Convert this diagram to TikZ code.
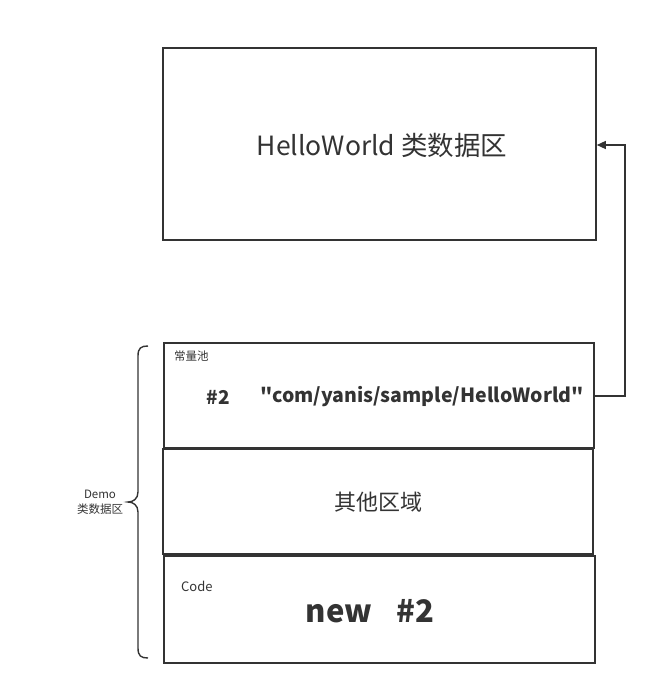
\documentclass[tikz,border=0pt]{standalone}
\usepackage{fontspec}
\setmainfont{Noto Sans CJK SC}[Ligatures=TeXOff]
\usetikzlibrary{arrows.meta}
\definecolor{ink}{HTML}{333333}
\begin{document}
\begin{tikzpicture}[x=1pt,y=-1pt,
  box/.style={draw=ink,line width=1.6pt,minimum width=#1,inner sep=0pt},
  lbl/.style={text=ink,inner sep=0pt},
  conn/.style={draw=ink,line width=1.4pt,-{Triangle[length=9pt,width=8pt]}}]
\useasboundingbox (0,0) rectangle (658,696);
% boxes
\node[box=433pt,minimum height=192pt] (hw) at (379.5,144) {};
\node[box=430pt,minimum height=105pt] (cp) at (379,395.5) {};
\node[box=430pt,minimum height=105pt] (ot) at (378,501.5) {};
\node[box=431pt,minimum height=107pt] (cd) at (379.5,609.5) {};
% texts
\node[lbl,font=\fontsize{26.5}{30}\selectfont] (hwt) at (382,145) {HelloWorld 类数据区};
\node[lbl,font=\fontsize{11.5}{13}\selectfont,anchor=west] (cpt) at (174,356) {常量池};
\node[lbl,font=\bfseries\fontsize{19}{22}\selectfont] (n2) at (218,397) {\#2};
\node[lbl,font=\bfseries\fontsize{19.5}{22}\selectfont] (str) at (422,397) {"com/yanis/sample/HelloWorld"};
\node[lbl,font=\fontsize{22}{26}\selectfont] (ott) at (378,502) {其他区域};
\node[lbl,font=\fontsize{13}{15}\selectfont,anchor=west] (cdt) at (181,586) {Code};
\node[lbl,font=\bfseries\fontsize{31}{36}\selectfont] (newt) at (370,611) {new\hspace{24pt}\#2};
\node[lbl,font=\fontsize{11.5}{15}\selectfont,align=center] (demo) at (100,502) {Demo\\类数据区};
% connector
\draw[conn] (cp.east |- 0,396) -- (625,396) -- (625,145) -- (hw.east |- 0,145);
% brace
\draw[ink,line width=1.4pt] (148,346) .. controls (141,346) and (138,348) .. (138,356)
  -- (138,492) .. controls (138,499) and (133,502) .. (128,502)
  .. controls (133,502) and (138,505) .. (138,512)
  -- (138,648) .. controls (138,656) and (141,658) .. (148,658);
\end{tikzpicture}
\end{document}
